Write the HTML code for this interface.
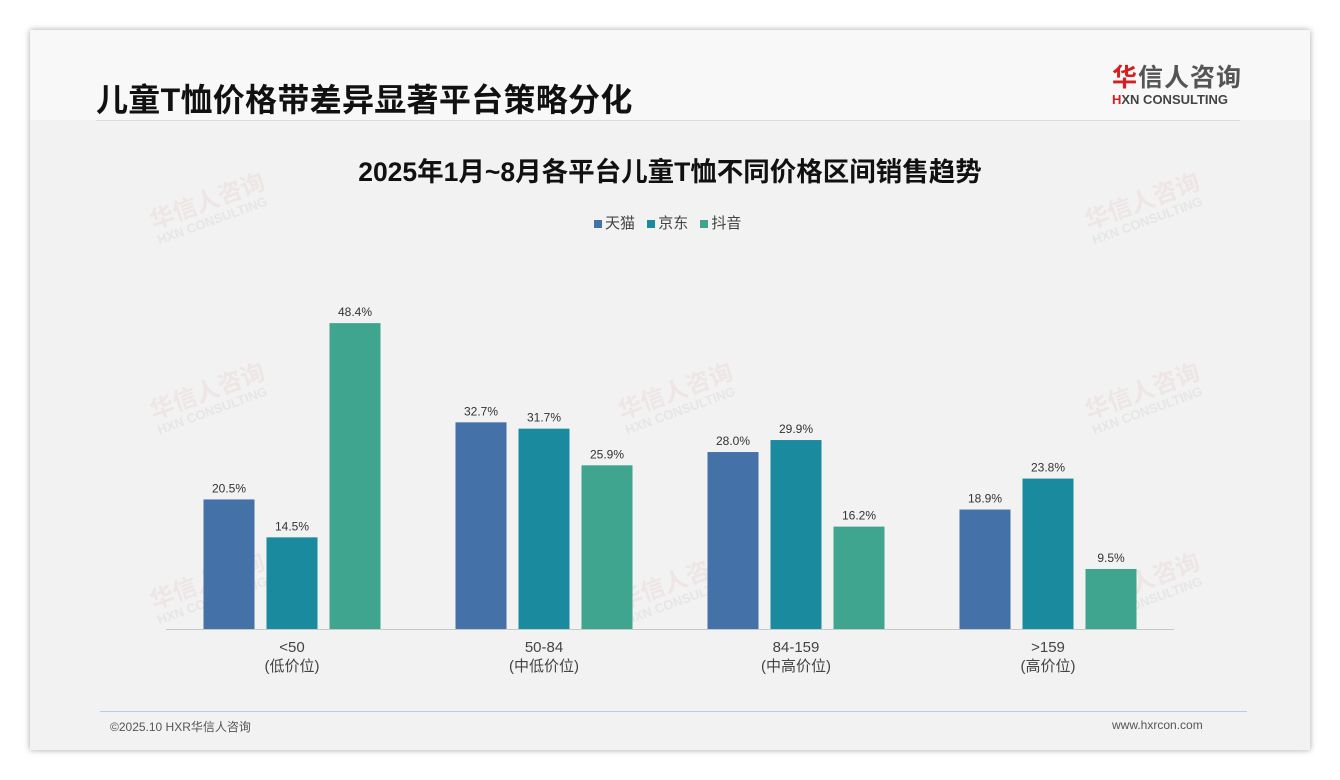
<!DOCTYPE html>
<html><head><meta charset="utf-8"><style>
body{margin:0;width:1340px;height:780px;background:#fff;font-family:"Liberation Sans","Noto Sans CJK SC",sans-serif;position:relative;overflow:hidden}
.card{position:absolute;left:30px;top:30px;width:1280px;height:720px;background:#f2f2f2;box-shadow:0 0 6px rgba(0,0,0,.35)}
.abs{position:absolute}
.wm{position:absolute;color:rgba(220,150,150,.13);font-weight:bold;transform:rotate(-20deg);font-size:24px;line-height:1}
.wm small{display:block;font-size:13px;color:rgba(160,160,160,.15)}
</style></head><body>
<div class="card"></div>
<div class="abs" style="left:30px;top:30px;width:1280px;height:90px;background:#f8f8f8"></div>
<div class="abs" style="left:96px;top:75px;font-size:32px;font-weight:bold;color:#111;letter-spacing:0.3px">儿童T恤价格带差异显著平台策略分化</div>
<div class="abs" style="left:1112px;top:64px;text-align:left">
<div style="font-size:25px;font-weight:bold;color:#555;letter-spacing:1px;line-height:28px"><span style="color:#d42020">华</span>信人咨询</div>
<div style="font-size:13px;font-weight:bold;color:#444;line-height:16px"><span style="color:#d42020">H</span>XN CONSULTING</div>
</div>
<div class="abs" style="left:96px;top:120px;width:1144px;height:1px;background:#ddd"></div>
<div class="abs" style="left:0;width:1340px;top:150px;text-align:center;font-size:26.5px;font-weight:bold;color:#111">2025年1月~8月各平台儿童T恤不同价格区间销售趋势</div>
<div class="abs" style="left:594px;top:212px;font-size:15px;color:#444">
<span><span style="display:inline-block;width:8px;height:8px;background:#4472a8;margin-right:3px"></span>天猫</span>
<span style="margin-left:8px"><span style="display:inline-block;width:8px;height:8px;background:#1a8a9e;margin-right:3px"></span>京东</span>
<span style="margin-left:8px"><span style="display:inline-block;width:8px;height:8px;background:#3fa58f;margin-right:3px"></span>抖音</span>
</div>
<div class="wm" style="left:150px;top:190px">华信人咨询<small>HXN CONSULTING</small></div>
<div class="wm" style="left:1085px;top:190px">华信人咨询<small>HXN CONSULTING</small></div>
<div class="wm" style="left:150px;top:380px">华信人咨询<small>HXN CONSULTING</small></div>
<div class="wm" style="left:618px;top:380px">华信人咨询<small>HXN CONSULTING</small></div>
<div class="wm" style="left:1085px;top:380px">华信人咨询<small>HXN CONSULTING</small></div>
<div class="wm" style="left:150px;top:570px">华信人咨询<small>HXN CONSULTING</small></div>
<div class="wm" style="left:618px;top:570px">华信人咨询<small>HXN CONSULTING</small></div>
<div class="wm" style="left:1085px;top:570px">华信人咨询<small>HXN CONSULTING</small></div>
<svg class="abs" style="left:0;top:0" width="1340" height="780" id="chart"></svg>
<div class="abs" style="left:100px;top:711px;width:1147px;height:1px;background:#b8cde0"></div>
<div class="abs" style="left:110px;top:718px;font-size:12px;color:#555">©2025.10 HXR华信人咨询</div>
<div class="abs" style="left:1112px;top:718px;font-size:12px;color:#555">www.hxrcon.com</div>
<script>
const categories=["<50","50-84","84-159",">159"];
const subLabels=["(低价位)","(中低价位)","(中高价位)","(高价位)"];
const tmall=[20.5,32.7,28.0,18.9];
const jd=[14.5,31.7,29.9,23.8];
const douyin=[48.4,25.9,16.2,9.5];
const seriesNames=["tmall","jd","douyin"];
const series=[tmall,jd,douyin];
const colors=["#4472a8","#1a8a9e","#3fa58f"];
const NS="http://www.w3.org/2000/svg";
const svg=document.getElementById("chart");
const x0=166,x1=1174,base=629,pxPer=6.32,bw=51,step=63;
const gw=(x1-x0)/categories.length;
const y=v=>base-v*pxPer;
function mk(t,a){const e=document.createElementNS(NS,t);for(const k in a)e.setAttribute(k,a[k]);svg.appendChild(e);return e;}
const ax=mk("line",{x1:x0,x2:x1,y1:base+0.5,y2:base+0.5,stroke:"#c8c8c8"});


categories.forEach((c,i)=>{
 const cx=x0+gw*(i+0.5);
 series.forEach((s,j)=>{
  const bx=cx+(j-1)*step-bw/2;
  const r=mk("rect",{x:bx,y:y(s[i]),width:bw,height:base-y(s[i]),fill:colors[j]});
  
  
  const t=mk("text",{x:bx+bw/2,y:y(s[i])-7,"text-anchor":"middle","font-size":12,fill:"#333"});
  t.textContent=s[i].toFixed(1)+"%";
  
  
 });
 const l1=mk("text",{x:cx,y:652,"text-anchor":"middle","font-size":15,fill:"#444"});
 l1.textContent=c;
 
 
 const l2=mk("text",{x:cx,y:671,"text-anchor":"middle","font-size":15,fill:"#444","font-family":"Liberation Sans,Noto Sans CJK SC,sans-serif"});
 l2.textContent=subLabels[i];
 
 
});
</script>
</body></html>
